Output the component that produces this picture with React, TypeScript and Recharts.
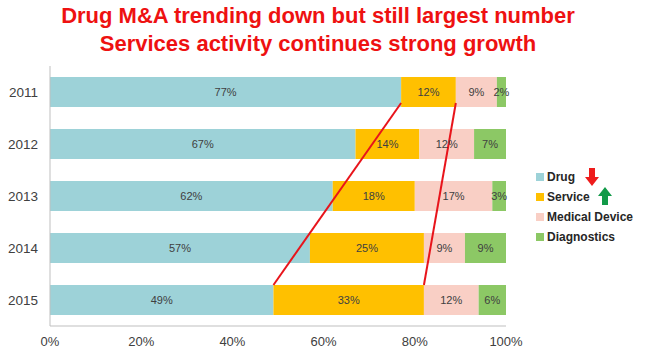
import { Bar, BarChart, LabelList, ReferenceLine, XAxis, YAxis } from "recharts";

const years = ["2011", "2012", "2013", "2014", "2015"];
const drug = [77, 67, 62, 57, 49];
const service = [12, 14, 18, 25, 33];
const medicalDevice = [9, 12, 17, 9, 12];
const diagnostics = [2, 7, 3, 9, 6];
const xTicks = [0, 20, 40, 60, 80, 100];
const titleLines = [
  "Drug M&A trending down but still largest number",
  "Services activity continues strong growth",
];

const series = [
  { key: "drug", name: "Drug", color: "#9dd2d8", arrow: "down" },
  { key: "service", name: "Service", color: "#ffc000", arrow: "up" },
  { key: "medical", name: "Medical Device", color: "#f9cfc5", arrow: "" },
  { key: "diagnostics", name: "Diagnostics", color: "#8cc865", arrow: "" },
];

const data = years.map((year, i) => ({
  year,
  drug: drug[i],
  service: service[i],
  medical: medicalDevice[i],
  diagnostics: diagnostics[i],
}));

// trend lines: from the end of a segment in the first year to the same end in the last year
const trends = [
  { from: drug[0], to: drug[4] },
  { from: drug[0] + service[0], to: drug[4] + service[4] },
];

const BAR = 30;

function TrendLine(props: any) {
  const { x1, y1, x2, y2 } = props;
  return (
    <line
      x1={x1}
      y1={y1 + BAR / 2 - 4}
      x2={x2}
      y2={y2 - BAR / 2}
      stroke="#e8141b"
      strokeWidth={2}
    />
  );
}

function Arrow({ dir }: { dir: string }) {
  if (dir === "down") {
    return (
      <svg width="14" height="18" style={{ marginLeft: 10, marginTop: 0 }}>
        <polygon points="4,0 10,0 10,9 14,9 7,18 0,9 4,9" fill="#ee1c1c" />
      </svg>
    );
  }
  return (
    <svg width="14" height="18" style={{ marginLeft: 8, marginTop: -3 }}>
      <polygon points="7,0 14,9 10,9 10,18 4,18 4,9 0,9" fill="#119a48" />
    </svg>
  );
}

export default function App() {
  return (
    <div
      style={{
        position: "absolute",
        left: 0,
        top: 0,
        width: 650,
        height: 351,
        background: "#fff",
        fontFamily: "Arial, 'Liberation Sans', sans-serif",
      }}
    >
      <div
        style={{
          position: "absolute",
          left: 0,
          top: 2,
          width: 636,
          textAlign: "center",
          color: "#ee1111",
          fontWeight: "bold",
          fontSize: 22,
          lineHeight: "28px",
        }}
      >
        {titleLines.map((t) => (
          <div key={t}>{t}</div>
        ))}
      </div>

      <div style={{ position: "absolute", left: 0, top: 0 }}>
        <BarChart
          width={650}
          height={351}
          data={data}
          layout="vertical"
          margin={{ top: 66, right: 144, bottom: 5, left: 0 }}
        >
          <XAxis
            type="number"
            domain={[0, 100]}
            ticks={xTicks}
            tickFormatter={(v) => `${v}%`}
            stroke="#bfbfbf"
            tickLine={false}
            tickMargin={5}
            height={20}
            tick={{ fill: "#404040", fontSize: 13 }}
          />
          <YAxis
            type="category"
            dataKey="year"
            width={50}
            stroke="#bfbfbf"
            tickLine={false}
            tickMargin={6}
            tick={{ fill: "#404040", fontSize: 13.5 }}
          />
          {series.map((s) => (
            <Bar
              key={s.key}
              dataKey={s.key}
              stackId="a"
              fill={s.color}
              barSize={BAR}
              isAnimationActive={false}
            >
              <LabelList
                dataKey={s.key}
                position="center"
                formatter={(v: any) => `${v}%`}
                fill="#404040"
                fontSize={11}
              />
            </Bar>
          ))}
          {trends.map((t, i) => (
            <ReferenceLine
              key={i}
              segment={[
                { x: t.from, y: years[0] },
                { x: t.to, y: years[years.length - 1] },
              ]}
              ifOverflow="visible"
              shape={TrendLine}
            />
          ))}
        </BarChart>
      </div>

      <div style={{ position: "absolute", left: 536, top: 167 }}>
        {series.map((s) => (
          <div
            key={s.key}
            style={{
              display: "flex",
              alignItems: "center",
              height: 20,
              fontSize: 12,
              fontWeight: "bold",
              color: "#262626",
            }}
          >
            <span
              style={{
                display: "inline-block",
                width: 8,
                height: 8,
                background: s.color,
                marginRight: 3,
              }}
            />
            <span>{s.name}</span>
            {s.arrow && <Arrow dir={s.arrow} />}
          </div>
        ))}
      </div>
    </div>
  );
}
